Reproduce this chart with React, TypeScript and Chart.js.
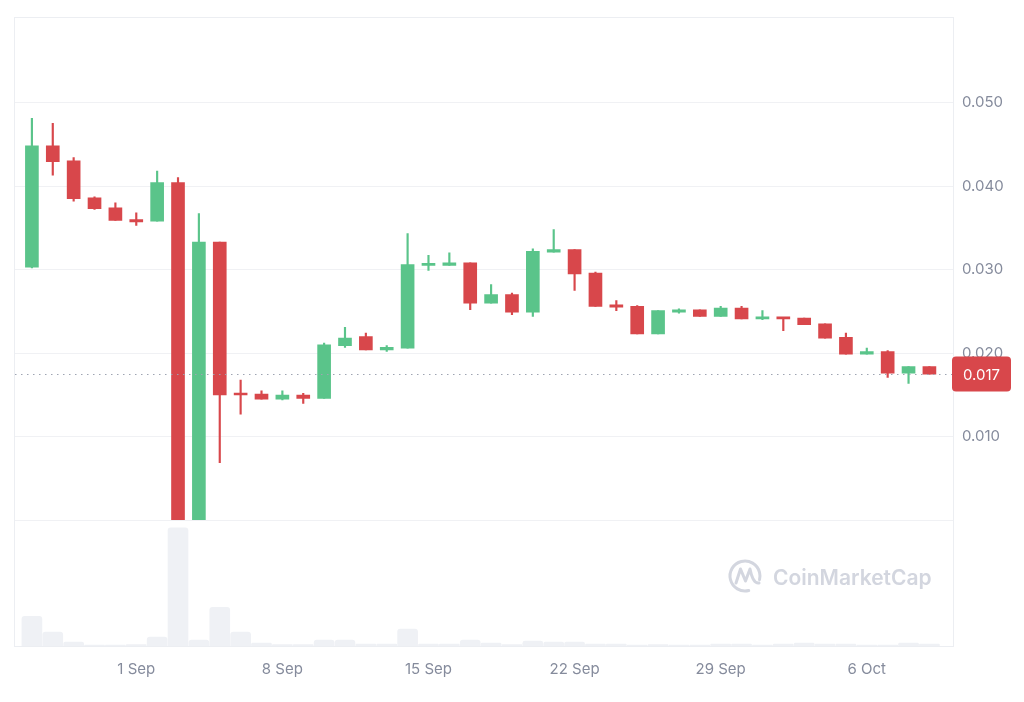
import React, { useEffect, useRef } from 'react';
import { Chart, registerables } from 'chart.js';

Chart.register(...registerables);

// ---- Data ----
const dates = [
  '27 Aug', '28 Aug', '29 Aug', '30 Aug', '31 Aug',
  '1 Sep', '2 Sep', '3 Sep', '4 Sep', '5 Sep', '6 Sep', '7 Sep', '8 Sep', '9 Sep', '10 Sep',
  '11 Sep', '12 Sep', '13 Sep', '14 Sep', '15 Sep', '16 Sep', '17 Sep', '18 Sep', '19 Sep', '20 Sep',
  '21 Sep', '22 Sep', '23 Sep', '24 Sep', '25 Sep', '26 Sep', '27 Sep', '28 Sep', '29 Sep', '30 Sep',
  '1 Oct', '2 Oct', '3 Oct', '4 Oct', '5 Oct', '6 Oct', '7 Oct', '8 Oct', '9 Oct',
];
const opens = [
  0.0303, 0.0448, 0.0430, 0.0386, 0.0374,
  0.0360, 0.0358, 0.0404, 0.0001, 0.0333, 0.0152, 0.0151, 0.0145, 0.0150, 0.0146,
  0.0209, 0.0220, 0.0204, 0.0206, 0.0305, 0.0305, 0.0308, 0.0260, 0.0270, 0.0249,
  0.0321, 0.0324, 0.0296, 0.0258, 0.0256, 0.0223, 0.0249, 0.0252, 0.0244, 0.0254,
  0.0241, 0.0243, 0.0242, 0.0235, 0.0219, 0.0199, 0.0202, 0.0176, 0.0184,
];
const highs = [
  0.0481, 0.0475, 0.0434, 0.0387, 0.0380,
  0.0368, 0.0418, 0.0410, 0.0367, 0.0333, 0.0168, 0.0155, 0.0155, 0.0152, 0.0212,
  0.0231, 0.0224, 0.0209, 0.0343, 0.0317, 0.0320, 0.0308, 0.0282, 0.0272, 0.0325,
  0.0348, 0.0324, 0.0297, 0.0263, 0.0257, 0.0251, 0.0253, 0.0252, 0.0256, 0.0256,
  0.0251, 0.0243, 0.0242, 0.0235, 0.0224, 0.0206, 0.0203, 0.0184, 0.0184,
];
const lows = [
  0.0302, 0.0413, 0.0382, 0.0372, 0.0359,
  0.0353, 0.0358, 0.0001, 0.0001, 0.0069, 0.0127, 0.0145, 0.0144, 0.0140, 0.0146,
  0.0207, 0.0204, 0.0202, 0.0206, 0.0299, 0.0305, 0.0252, 0.0260, 0.0246, 0.0244,
  0.0321, 0.0275, 0.0256, 0.0251, 0.0223, 0.0223, 0.0248, 0.0244, 0.0244, 0.0241,
  0.0240, 0.0227, 0.0234, 0.0218, 0.0199, 0.0199, 0.0171, 0.0164, 0.0175,
];
const closes = [
  0.0448, 0.0429, 0.0385, 0.0373, 0.0359,
  0.0357, 0.0404, 0.0001, 0.0333, 0.0150, 0.0150, 0.0145, 0.0150, 0.0146, 0.0210,
  0.0218, 0.0204, 0.0207, 0.0306, 0.0307, 0.0308, 0.0260, 0.0270, 0.0249, 0.0322,
  0.0324, 0.0295, 0.0256, 0.0255, 0.0223, 0.0251, 0.0252, 0.0244, 0.0254, 0.0241,
  0.0243, 0.0241, 0.0234, 0.0218, 0.0199, 0.0202, 0.0176, 0.0184, 0.0175,
];
// volume (thousands, relative)
const volumes = [
  300, 140, 40, 10, 10,
  15, 90, 1190, 60, 390, 140, 30, 15, 15, 60,
  60, 20, 20, 170, 20, 20, 60, 30, 15, 50,
  40, 40, 20, 20, 10, 15, 10, 10, 20, 20,
  10, 20, 30, 20, 20, 10, 10, 30, 20,
];
const priceTicks = [0, 0.01, 0.02, 0.03, 0.04, 0.05];
const xTickIndices = [5, 12, 19, 26, 33, 40];
const currentPriceLabel = '0.017';

const GREEN = '#5ac48a';
const RED = '#d8474b';
const GRAY_TEXT = '#858b9c';
const GRID = '#f0f1f4';

const overlayPlugin = {
  id: 'overlay',
  beforeDatasetsDraw(chart: any) {
    const { ctx, chartArea: a } = chart;
    ctx.save();
    ctx.strokeStyle = '#eceef2';
    ctx.lineWidth = 1;
    ctx.strokeRect(a.left - 0.5, a.top - 0.5, a.right - a.left + 1, a.bottom - a.top + 1);

    // watermark
    const wm = '#d3d6df';
    const cx = a.right - 208;
    const cy = a.bottom - 70;
    ctx.strokeStyle = wm;
    ctx.lineWidth = 3;
    ctx.lineCap = 'round';
    ctx.lineJoin = 'round';
    ctx.beginPath();
    ctx.arc(cx, cy, 15, 0.42 * Math.PI, 2.08 * Math.PI);
    ctx.stroke();
    ctx.beginPath();
    ctx.moveTo(cx - 9, cy + 7);
    ctx.lineTo(cx - 4.5, cy - 7);
    ctx.lineTo(cx + 0.5, cy + 5);
    ctx.lineTo(cx + 5, cy - 7);
    ctx.quadraticCurveTo(cx + 8, cy + 8, cx + 14, cy + 7);
    ctx.stroke();
    ctx.fillStyle = wm;
    ctx.font = '600 21px Inter';
    ctx.textBaseline = 'alphabetic';
    ctx.textAlign = 'left';
    ctx.fillText('CoinMarketCap', a.right - 180, a.bottom - 61.5);
    ctx.restore();
  },
  afterDatasetsDraw(chart: any) {
    const { ctx, chartArea: a, scales } = chart;
    const y = Math.round(scales.y.getPixelForValue(closes[closes.length - 1])) + 0.5;
    ctx.save();
    ctx.strokeStyle = '#9ea4b2';
    ctx.lineWidth = 1;
    ctx.setLineDash([1.5, 4.5]);
    ctx.beginPath();
    ctx.moveTo(a.left, y);
    ctx.lineTo(a.right, y);
    ctx.stroke();
    ctx.restore();
  },
  afterDraw(chart: any) {
    const { ctx, chartArea: a, scales } = chart;
    const y = scales.y.getPixelForValue(closes[closes.length - 1]);
    const x0 = a.right - 1;
    const w = 59;
    const h = 35;
    ctx.save();
    ctx.fillStyle = RED;
    ctx.beginPath();
    (ctx as any).roundRect(x0, y - h / 2, w, h, 4);
    ctx.fill();
    ctx.fillStyle = '#ffffff';
    ctx.font = '15px Inter';
    ctx.textAlign = 'center';
    ctx.textBaseline = 'middle';
    ctx.fillText(currentPriceLabel, x0 + w / 2, y + 1);
    ctx.restore();
  },
};

export default function App() {
  const canvasRef = useRef<HTMLCanvasElement | null>(null);

  useEffect(() => {
    if (!canvasRef.current) return;
    const colors = closes.map((c, i) => (c >= opens[i] ? GREEN : RED));
    const bodies = opens.map((o, i) => ({ x: i, y: [o, closes[i]] }));
    const wicks = lows.map((l, i) => ({ x: i, y: [l, highs[i]] }));
    const vols = volumes.map((v, i) => ({ x: i, y: v }));

    const chart = new Chart(canvasRef.current, {
      type: 'bar',
      data: {
        datasets: [
          {
            label: 'body',
            data: bodies as any,
            backgroundColor: colors,
            barThickness: 13,
            minBarLength: 2,
            grouped: false,
            yAxisID: 'y',
          } as any,
          {
            label: 'wick',
            data: wicks as any,
            backgroundColor: colors,
            barThickness: 1.5,
            grouped: false,
            yAxisID: 'y',
          } as any,
          {
            label: 'volume',
            data: vols as any,
            backgroundColor: '#eff1f5',
            barThickness: 20,
            borderRadius: { topLeft: 3, topRight: 3, bottomLeft: 0, bottomRight: 0 },
            borderSkipped: 'bottom',
            grouped: false,
            yAxisID: 'yv',
          } as any,
        ],
      },
      options: {
        responsive: false,
        animation: false,
        maintainAspectRatio: false,
        layout: { padding: { left: 15, top: 15, right: 0, bottom: 0 } },
        plugins: { legend: { display: false }, tooltip: { enabled: false } },
        scales: {
          x: {
            type: 'linear',
            offset: false,
            bounds: 'data',
            min: -0.81,
            max: 44.13,
            grid: { display: false, drawTicks: false, offset: false },
            border: { display: false },
            afterBuildTicks: (s: any) => {
              s.ticks = xTickIndices.map((v) => ({ value: v }));
            },
            afterFit: (s: any) => {
              s.height = 56;
            },
            ticks: {
              autoSkip: false,
              maxRotation: 0,
              padding: 14,
              color: GRAY_TEXT,
              font: { family: 'Inter', size: 15 },
              callback: (v: any) => dates[Math.round(Number(v))] ?? '',
            },
          },
          y: {
            type: 'linear',
            position: 'right',
            stack: 'main',
            stackWeight: 4,
            min: 0,
            max: 0.0601,
            grid: { color: GRID, drawTicks: false },
            border: { display: false },
            afterBuildTicks: (s: any) => {
              s.ticks = priceTicks.map((v) => ({ value: v }));
            },
            afterFit: (s: any) => {
              s.width = 71;
            },
            ticks: {
              padding: 9,
              color: GRAY_TEXT,
              font: { family: 'Inter', size: 15 },
              callback: (v: any) => (Number(v) === 0 ? '' : Number(v).toFixed(3)),
            },
          },
          yv: {
            type: 'linear',
            position: 'right',
            stack: 'main',
            stackWeight: 1,
            min: 0,
            max: 1265,
            grid: { display: false, drawTicks: false },
            border: { display: false },
            ticks: { display: false },
          },
        },
      } as any,
      plugins: [overlayPlugin],
    });
    return () => chart.destroy();
  }, []);

  return (
    <div style={{ position: 'absolute', left: 0, top: 0, width: 1024, height: 702, background: '#fff' }}>
      <canvas ref={canvasRef} width={1024} height={702} style={{ display: 'block', width: 1024, height: 702 }} />
    </div>
  );
}
